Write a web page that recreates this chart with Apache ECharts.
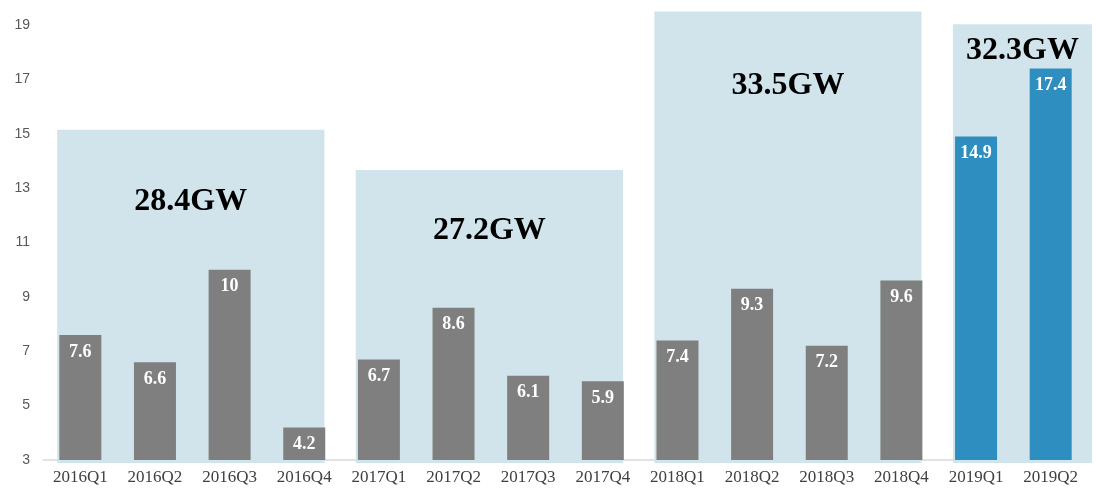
<!DOCTYPE html>
<html>
<head>
<meta charset="utf-8">
<script src="https://cdn.jsdelivr.net/npm/echarts@6/dist/echarts.min.js"></script>
<style>html,body{margin:0;padding:0;background:#fff;}#c{width:1096px;height:488px;}</style>
</head>
<body>
<div id="c"></div>
<script>
const categories = ['2016Q1','2016Q2','2016Q3','2016Q4','2017Q1','2017Q2','2017Q3','2017Q4','2018Q1','2018Q2','2018Q3','2018Q4','2019Q1','2019Q2'];
const values = [7.6, 6.6, 10, 4.2, 6.7, 8.6, 6.1, 5.9, 7.4, 9.3, 7.2, 9.6, 14.9, 17.4];
const highlighted = [false,false,false,false,false,false,false,false,false,false,false,false,true,true];
const groupStart = [0, 4, 8, 12];
const groupEnd = [3, 7, 11, 13];
const groupTop = [15.15, 13.67, 19.5, 19.03];
const groupLabelValue = [12.5, 11.45, 16.75, 18.05];
const groupLabels = ['28.4GW', '27.2GW', '33.5GW', '32.3GW'];
const yTicks = { min: 3, max: 19, interval: 2 };

const chart = echarts.init(document.getElementById('c'));
const boxData = groupStart.map((s, i) => [s, groupEnd[i], groupTop[i], groupLabelValue[i], groupLabels[i]]);

chart.setOption({
  animation: false,
  grid: { left: 43, right: 8, top: 25, bottom: 28 },
  xAxis: {
    type: 'category',
    data: categories,
    axisLine: { lineStyle: { color: '#d9d9d9', width: 1.5 } },
    axisTick: { show: false },
    axisLabel: { fontFamily: 'Liberation Serif', fontSize: 17, color: '#404040', margin: 9 }
  },
  yAxis: {
    type: 'value',
    min: yTicks.min, max: yTicks.max, interval: yTicks.interval,
    axisLine: { show: false },
    axisTick: { show: false },
    splitLine: { show: false },
    axisLabel: { fontFamily: 'Liberation Sans', fontSize: 14, color: '#595959', margin: 13 }
  },
  series: [
    {
      type: 'custom',
      z: 1,
      clip: false,
      silent: true,
      data: boxData,
      renderItem: function (params, api) {
        const band = api.size([1, 0])[0];
        const c0 = api.coord([api.value(0), yTicks.min]);
        const c1 = api.coord([api.value(1), yTicks.min]);
        const top = api.coord([api.value(0), api.value(2)])[1];
        const ly = api.coord([api.value(0), api.value(3)])[1];
        const x0 = c0[0] - band * 0.31;
        const isLast = params.dataIndex === boxData.length - 1;
        const x1 = isLast ? api.getWidth() - 4 : c1[0] + band * 0.27;
        const bottom = c0[1] + 3;
        return {
          type: 'group',
          children: [
            { type: 'rect', shape: { x: x0, y: top, width: x1 - x0, height: bottom - top },
              style: { fill: '#d1e4eb' } },
            { type: 'text', x: (x0 + x1) / 2, y: ly,
              style: { text: boxData[params.dataIndex][4], fill: '#000', fontFamily: 'Liberation Serif',
                fontWeight: 'bold', fontSize: 32, align: 'center', verticalAlign: 'middle' } }
          ]
        };
      }
    },
    {
      type: 'bar',
      z: 2,
      barWidth: 42,
      data: values.map((v, i) => ({ value: v, itemStyle: { color: highlighted[i] ? '#2e8ec0' : '#7f7f7f' } })),
      label: {
        show: true, position: 'insideTop', distance: 8,
        color: '#fff', fontFamily: 'Liberation Serif', fontWeight: 'bold', fontSize: 18
      }
    }
  ]
});
</script>
</body>
</html>
